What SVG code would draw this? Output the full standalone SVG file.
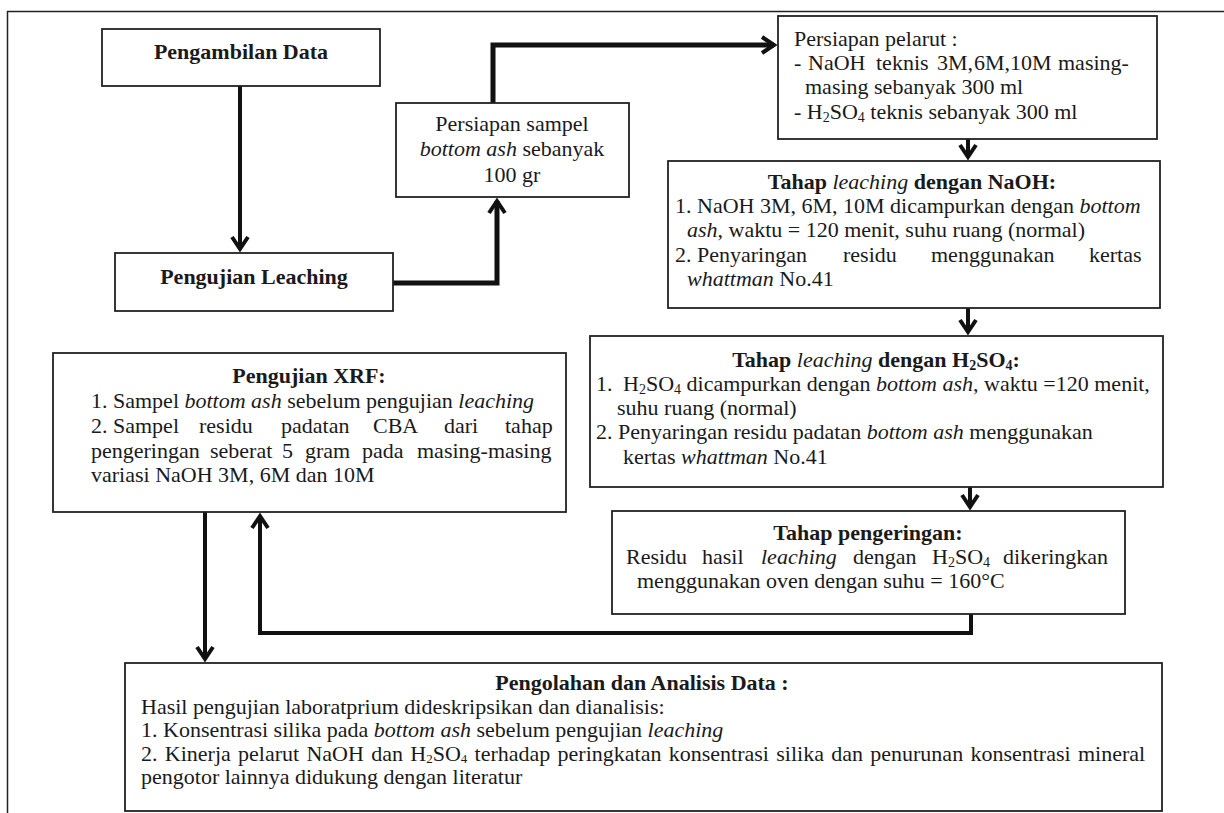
<svg xmlns="http://www.w3.org/2000/svg" width="1224" height="813" viewBox="0 0 1224 813">
<style>
text{font-family:"Liberation Serif","Times New Roman",serif;font-size:22px;fill:#1a1a1a}
.b{font-weight:bold}
.i{font-style:italic}
.c{text-anchor:middle}
.sub{font-size:14px}
.sm{font-size:21.5px}
.sm .sub{font-size:13px}
.box{fill:#fff;stroke:#222;stroke-width:1.8}
.frame{fill:none;stroke:#222;stroke-width:1.5}
.thick{fill:none;stroke:#111;stroke-width:5;marker-end:url(#arrow)}
.mid{fill:none;stroke:#111;stroke-width:4;marker-end:url(#arrow)}
</style>
<defs>
<marker id="arrow" markerUnits="userSpaceOnUse" viewBox="-16 -12 21 24" markerWidth="21" markerHeight="24" refX="0" refY="0" orient="auto">
<path d="M-12,-8 L0,0 L-12,8" fill="none" stroke="#111" stroke-width="4"/>
</marker>
</defs>
<rect width="1224" height="813" fill="#fff"/>
<path class="frame" d="M7.5,813 V11.5 H1224"/>

<g id="connectors">
<path class="mid" d="M240,86 V249"/>
<path class="thick" d="M393,283 H497 V201"/>
<path class="thick" d="M493,103 V45 H774"/>
<path class="mid" d="M968,139 V157"/>
<path class="mid" d="M968,308 V332"/>
<path class="mid" d="M970,487 V507"/>
<path class="mid" d="M971,614 V633 H260 V516"/>
<path class="mid" d="M205,512 V659"/>
</g>

<g id="pengambilan-data">
<rect class="box" x="102" y="29" width="278" height="57"/>
<text class="b c" x="241" y="59">Pengambilan Data</text>
</g>

<g id="pengujian-leaching">
<rect class="box" x="115" y="253" width="278" height="58"/>
<text class="b c" x="254" y="284">Pengujian Leaching</text>
</g>

<g id="persiapan-sampel">
<rect class="box" x="396" y="103" width="233" height="94"/>
<text class="c" x="512" y="131">Persiapan sampel</text>
<text class="c" x="512" y="156"><tspan class="i">bottom ash</tspan> sebanyak</text>
<text class="c" x="512" y="182">100 gr</text>
</g>

<g id="persiapan-pelarut">
<rect class="box" x="778" y="16" width="379" height="123"/>
<text x="794" y="46">Persiapan pelarut :</text>
<text y="70"><tspan x="794">-</tspan><tspan x="808">NaOH</tspan><tspan x="876">teknis</tspan><tspan x="937">3M,</tspan><tspan x="974">6M,10M</tspan><tspan x="1058">masing-</tspan></text>
<text x="805" y="94">masing sebanyak 300 ml</text>
<text x="794" y="119">- H<tspan class="sub" dy="3">2</tspan><tspan dy="-3">SO</tspan><tspan class="sub" dy="3">4</tspan><tspan dy="-3"> teknis sebanyak 300 ml</tspan></text>
</g>

<g id="leaching-naoh">
<rect class="box" x="668" y="161" width="492" height="147"/>
<text class="b c" x="912" y="189">Tahap <tspan class="i" font-weight="normal">leaching</tspan> dengan NaOH:</text>
<text x="675" y="213">1. NaOH 3M, 6M, 10M dicampurkan dengan <tspan class="i">bottom</tspan></text>
<text x="687" y="237"><tspan class="i">ash</tspan>, waktu = 120 menit, suhu ruang (normal)</text>
<text y="262"><tspan x="675">2. Penyaringan</tspan><tspan x="843">residu</tspan><tspan x="931">menggunakan</tspan><tspan x="1089">kertas</tspan></text>
<text x="687" y="286"><tspan class="i">whattman</tspan>  No.41</text>
</g>

<g id="leaching-h2so4">
<rect class="box" x="590" y="336" width="573" height="151"/>
<text class="b c" x="876" y="367">Tahap  <tspan class="i" font-weight="normal">leaching</tspan> dengan H<tspan class="sub" dy="3">2</tspan><tspan dy="-3">SO</tspan><tspan class="sub" dy="3">4</tspan><tspan dy="-3">:</tspan></text>
<text y="391"><tspan x="596">1.</tspan><tspan x="623">H</tspan><tspan class="sub" dy="3">2</tspan><tspan dy="-3">SO</tspan><tspan class="sub" dy="3">4</tspan><tspan dy="-3"> dicampurkan dengan </tspan><tspan class="i">bottom ash</tspan>, waktu =120 menit,</text>
<text x="617" y="415">suhu ruang (normal)</text>
<text x="596" y="439">2. Penyaringan residu padatan <tspan class="i">bottom ash</tspan> menggunakan</text>
<text x="623" y="464">kertas <tspan class="i">whattman</tspan> No.41</text>
</g>

<g id="pengeringan">
<rect class="box" x="612" y="511" width="513" height="103"/>
<text class="b c" x="868" y="540">Tahap  pengeringan:</text>
<text y="564"><tspan x="626">Residu</tspan><tspan x="702">hasil</tspan><tspan x="761" class="i">leaching</tspan><tspan x="853">dengan</tspan><tspan x="932">H</tspan><tspan class="sub" dy="3">2</tspan><tspan dy="-3">SO</tspan><tspan class="sub" dy="3">4</tspan><tspan dy="-3" x="1003">dikeringkan</tspan></text>
<text x="637" y="588">menggunakan oven dengan suhu = 160°C</text>
</g>

<g id="pengujian-xrf">
<rect class="box" x="53" y="353" width="513" height="159"/>
<text class="b c" x="309" y="383">Pengujian XRF:</text>
<text x="91" y="408">1. Sampel <tspan class="i">bottom ash</tspan> sebelum pengujian <tspan class="i">leaching</tspan></text>
<text y="433"><tspan x="91">2. Sampel</tspan><tspan x="199">residu</tspan><tspan x="281">padatan</tspan><tspan x="373">CBA</tspan><tspan x="444">dari</tspan><tspan x="505">tahap</tspan></text>
<text y="458"><tspan x="91">pengeringan</tspan><tspan x="210">seberat</tspan><tspan x="282">5</tspan><tspan x="305">gram</tspan><tspan x="362">pada</tspan><tspan x="417">masing-masing</tspan></text>
<text x="91" y="482">variasi NaOH 3M, 6M dan 10M</text>
</g>

<g id="pengolahan-analisis" class="sm">
<rect class="box" x="125" y="663" width="1037" height="148"/>
<text class="b c" x="642" y="690">Pengolahan dan Analisis Data :</text>
<text x="141" y="713.5">Hasil pengujian laboratprium dideskripsikan dan dianalisis:</text>
<text x="141" y="737">1. Konsentrasi silika pada <tspan class="i">bottom ash</tspan> sebelum pengujian <tspan class="i">leaching</tspan></text>
<text x="141" y="760.5" word-spacing="1.8">2. Kinerja pelarut NaOH dan H<tspan class="sub" dy="2">2</tspan><tspan dy="-2">SO</tspan><tspan class="sub" dy="2">4</tspan><tspan dy="-2"> terhadap peringkatan konsentrasi  silika dan penurunan konsentrasi mineral</tspan></text>
<text x="141" y="784">pengotor lainnya didukung dengan literatur</text>
</g>
</svg>
